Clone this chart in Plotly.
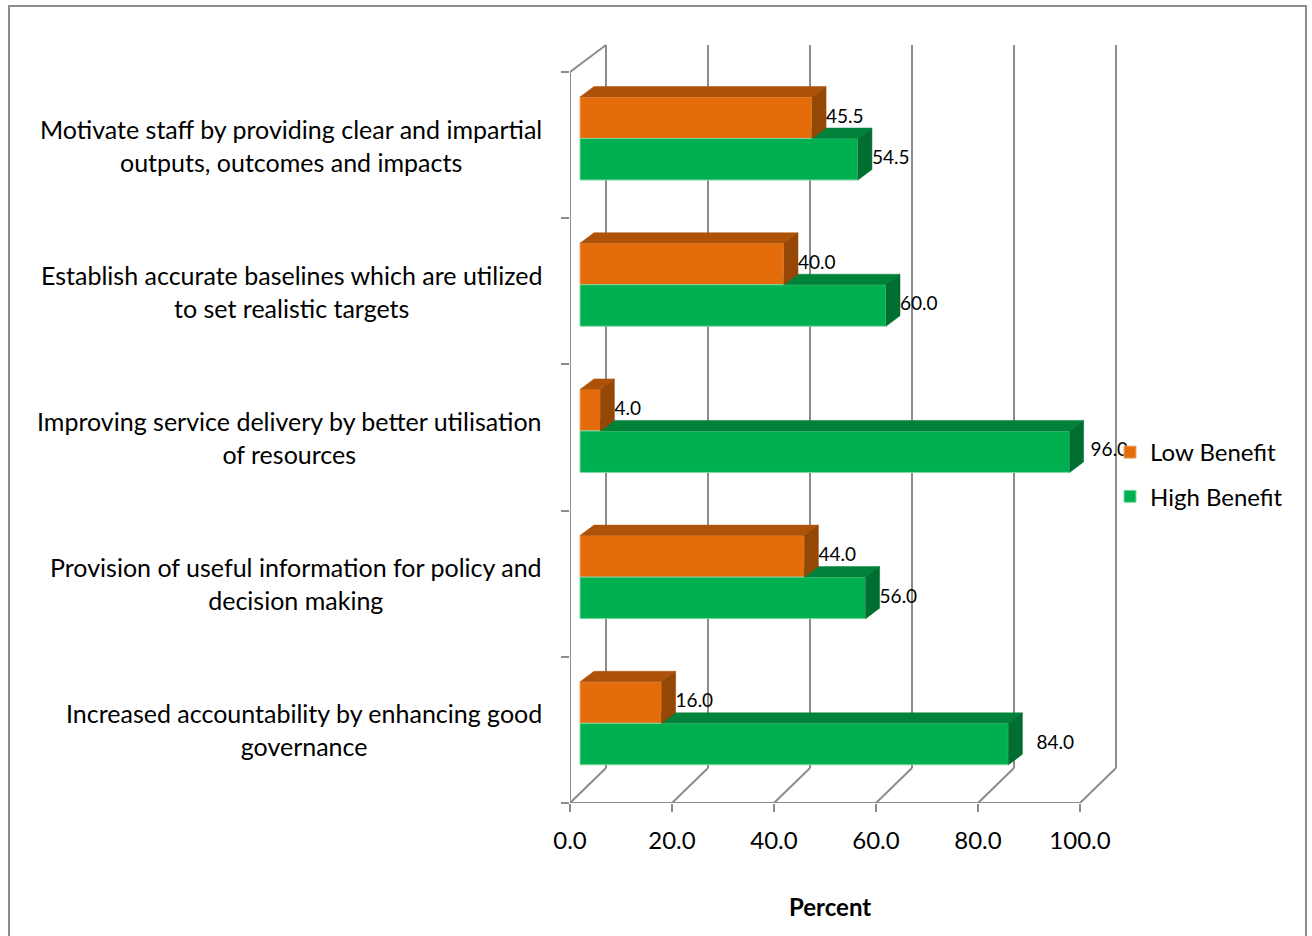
import plotly.graph_objects as go

# ---- data -------------------------------------------------------------
categories = [
    "Motivate staff by providing clear and impartial<br>outputs, outcomes and impacts",
    "Establish accurate baselines which are utilized<br>to set realistic targets",
    "Improving service delivery by better utilisation<br>of resources",
    "Provision of useful information for policy and<br>decision making",
    "Increased accountability by enhancing good<br>governance",
]
low_benefit = [45.5, 40.0, 4.0, 44.0, 16.0]
high_benefit = [54.5, 60.0, 96.0, 56.0, 84.0]
x_tick_values = [0, 20, 40, 60, 80, 100]
x_tick_labels = ["0.0", "20.0", "40.0", "60.0", "80.0", "100.0"]
series_names = ["Low Benefit", "High Benefit"]

# ---- styling / geometry -------------------------------------------------
W, H = 1312, 936
FONT = "Lato, Carlito, Calibri, sans-serif"
GRID = "#8c8c8c"

PX_PER_UNIT = 5.1          # horizontal pixels per percent
PX_PER_CAT = 146.2         # vertical pixels per category band
X_LEFT_PX = 570            # front-left corner of the floor
Y_FLOOR_PX = 803           # front edge of the floor

# depth of the 3-D box (walls), in axis units
WALL_DX = 36 / PX_PER_UNIT
WALL_DY_BOTTOM = 35 / PX_PER_CAT
WALL_DY_TOP = 27 / PX_PER_CAT

# bar solids
BAR_BASE = 10 / PX_PER_UNIT      # front face starts a little inside the box
BAR_LIFT = 0.045                 # front face raised by its depth position
BAR_THICK = 0.284                # bar height, in category units
BAR_DX = 14 / PX_PER_UNIT        # extrusion of a bar
BAR_DY = 10.5 / PX_PER_CAT

front_colors = ["#E46C0A", "#00B050"]
top_colors = ["#AE520A", "#00823A"]
side_colors = ["#954706", "#006E30"]
edge_colors = ["#F2A66A", "#7FD9A4"]
label_nudge_px = [[0, 0, 0, 0, 0], [0, 0, 7, 0, 14]]

n_cat = len(categories)
X_MAX = 108
Y_MAX = 5.4


def wall_point(v, c, z):
    """Project a point (value, category position, depth 0..1) onto the axes."""
    dy = WALL_DY_BOTTOM + (WALL_DY_TOP - WALL_DY_BOTTOM) * c / n_cat
    return v + z * WALL_DX, c + z * dy


fig = go.Figure()

centers = [n_cat - 0.5 - k for k in range(n_cat)]
series = [low_benefit, high_benefit]
# low benefit sits above high benefit inside each band
bar_y = [
    [c + BAR_LIFT + BAR_THICK / 2 for c in centers],
    [c + BAR_LIFT - BAR_THICK / 2 for c in centers],
]

# front faces
for s, vals in enumerate(series):
    fig.add_trace(go.Bar(
        name=series_names[s],
        orientation="h",
        x=vals,
        y=bar_y[s],
        base=[BAR_BASE] * n_cat,
        width=BAR_THICK,
        marker=dict(color=front_colors[s], line=dict(color=edge_colors[s], width=1)),
        legendgroup=series_names[s],
        hoverinfo="skip",
    ))


def poly(xs, ys, color):
    fig.add_trace(go.Scatter(
        x=xs + [xs[0]], y=ys + [ys[0]], mode="lines", fill="toself",
        fillcolor=color, line=dict(color=color, width=0.5),
        showlegend=False, hoverinfo="skip",
    ))


# top and side faces, back to front within each band
for k in range(n_cat):
    lo, hi = low_benefit[k], high_benefit[k]
    b = BAR_BASE
    # high-benefit bar (lower)
    y0 = bar_y[1][k] - BAR_THICK / 2
    y1 = bar_y[1][k] + BAR_THICK / 2
    left_bot = b + lo
    left_top = b + max(lo, BAR_DX)
    poly([left_bot, b + hi, b + hi + BAR_DX, left_top],
         [y1, y1, y1 + BAR_DY, y1 + BAR_DY], top_colors[1])
    poly([b + hi, b + hi, b + hi + BAR_DX, b + hi + BAR_DX],
         [y0, y1, y1 + BAR_DY, y0 + BAR_DY], side_colors[1])
    # low-benefit bar (upper)
    y0 = bar_y[0][k] - BAR_THICK / 2
    y1 = bar_y[0][k] + BAR_THICK / 2
    poly([b, b + lo, b + lo + BAR_DX, b + BAR_DX],
         [y1, y1, y1 + BAR_DY, y1 + BAR_DY], top_colors[0])
    poly([b + lo, b + lo, b + lo + BAR_DX, b + lo + BAR_DX],
         [y0, y1, y1 + BAR_DY, y0 + BAR_DY], side_colors[0])

# value labels
for s, vals in enumerate(series):
    fig.add_trace(go.Scatter(
        x=[BAR_BASE + v + BAR_DX + label_nudge_px[s][k] / PX_PER_UNIT for k, v in enumerate(vals)],
        y=bar_y[s],
        mode="text",
        text=[f"{v:.1f}" for v in vals],
        textposition="middle right",
        textfont=dict(family=FONT, size=19, color="#000000"),
        showlegend=False, hoverinfo="skip", cliponaxis=False,
    ))

# walls and floor of the 3-D box
shapes = []


def seg(p, q):
    shapes.append(dict(type="line", xref="x", yref="y", layer="below",
                       x0=p[0], y0=p[1], x1=q[0], y1=q[1],
                       line=dict(color=GRID, width=2)))


for v in x_tick_values:
    seg(wall_point(v, 0, 1), wall_point(v, n_cat, 1))      # back wall gridline
    seg(wall_point(v, 0, 0), wall_point(v, 0, 1))          # floor gridline
seg(wall_point(0, 0, 0), wall_point(x_tick_values[-1], 0, 0))
seg(wall_point(0, 0, 0), wall_point(0, n_cat, 0))
seg(wall_point(0, n_cat, 0), wall_point(0, n_cat, 1))

# chart-area border
shapes.append(dict(type="rect", xref="paper", yref="paper",
                   x0=9 / W, x1=1306 / W, y0=-0.02, y1=1 - 6 / H,
                   line=dict(color=GRID, width=2), fillcolor="rgba(0,0,0,0)"))

# category labels, centred lines in a right-aligned block
annotations = []
for k, text in enumerate(categories):
    annotations.append(dict(
        text=text, xref="paper", yref="y", x=544 / W, y=centers[k],
        xanchor="right", yanchor="middle", align="center", showarrow=False,
        font=dict(family=FONT, size=25, color="#000000"),
    ))
annotations.append(dict(
    text="<b>Percent</b>", xref="paper", yref="paper", x=830 / W, y=1 - 906 / H,
    xanchor="center", yanchor="middle", showarrow=False,
    font=dict(family=FONT, size=24, color="#000000"),
))

x_dom = [X_LEFT_PX / W, (X_LEFT_PX + X_MAX * PX_PER_UNIT) / W]
y_dom = [(H - Y_FLOOR_PX) / H, (H - Y_FLOOR_PX + Y_MAX * PX_PER_CAT) / H]

fig.update_layout(
    width=W, height=H, autosize=False,
    margin=dict(l=0, r=0, t=0, b=0, autoexpand=False),
    paper_bgcolor="white", plot_bgcolor="rgba(0,0,0,0)",
    barmode="overlay",
    font=dict(family=FONT, color="#000000"),
    shapes=shapes, annotations=annotations,
    xaxis=dict(domain=x_dom, range=[0, X_MAX], tickvals=x_tick_values, ticktext=x_tick_labels,
               ticks="outside", ticklen=8, tickwidth=2, tickcolor=GRID, ticklabelstandoff=8,
               showgrid=False, zeroline=False, showline=False, automargin=False,
               tickfont=dict(family=FONT, size=24, color="#000000")),
    yaxis=dict(domain=y_dom, range=[0, Y_MAX], tickvals=list(range(n_cat + 1)),
               ticktext=[""] * (n_cat + 1), ticks="outside", ticklen=8, tickwidth=2,
               tickcolor=GRID, showgrid=False, zeroline=False, showline=False,
               automargin=False),
    legend=dict(x=1110 / W, y=1 - 430 / H, xanchor="left", yanchor="top",
                bgcolor="rgba(0,0,0,0)", traceorder="grouped", tracegroupgap=10,
                font=dict(family=FONT, size=24, color="#000000")),
    showlegend=True,
)

fig.write_html("out.html")
